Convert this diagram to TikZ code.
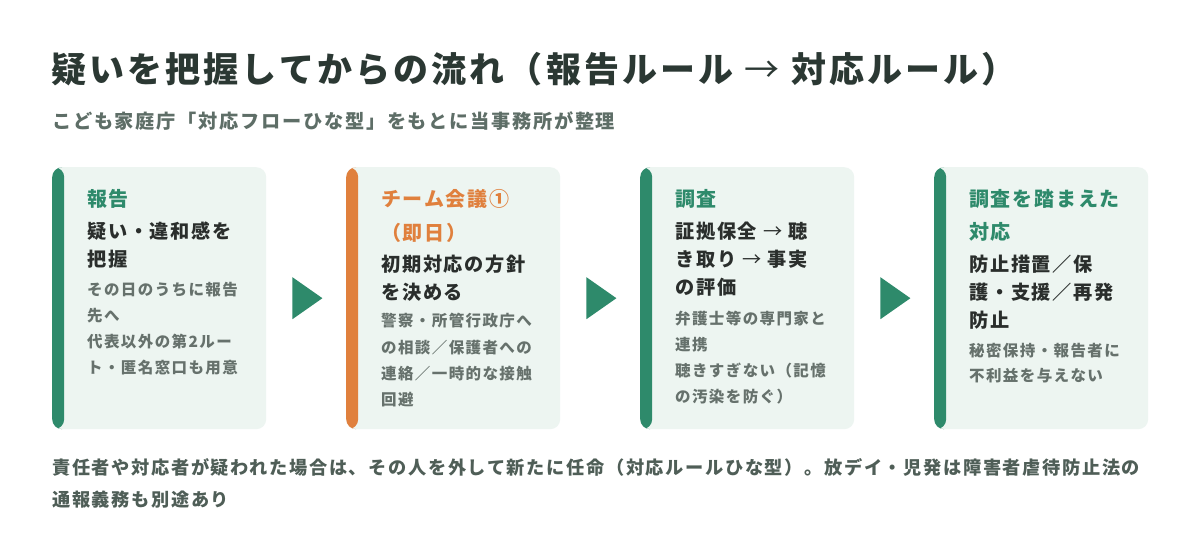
\documentclass[tikz,border=0pt]{standalone}
\usepackage{fontspec}
\setmainfont{Noto Sans CJK JP}[LetterSpace=9]
\newfontfamily\titlefont{Noto Sans CJK JP}[LetterSpace=9]
\usetikzlibrary{calc}
\definecolor{titlec}{HTML}{2B3833}
\definecolor{subc}{HTML}{5E6E67}
\definecolor{notec}{HTML}{4F5E57}
\definecolor{cardbg}{HTML}{EDF5F1}
\definecolor{greenc}{HTML}{2E8A6B}
\definecolor{orangec}{HTML}{E0803D}
\definecolor{maintxt}{HTML}{2A2E2C}
\definecolor{subtxt}{HTML}{66716C}
\newcommand{\thinarrow}{{\mdseries →}}
\begin{document}
\begin{tikzpicture}[x=1pt,y=-1pt,
  card/.style={draw=none, fill=cardbg, rounded corners=10pt, minimum width=214pt,
    minimum height=262pt, inner sep=0pt, anchor=north west,
    path picture={\fill[#1] (path picture bounding box.north west) rectangle ([xshift=12pt]path picture bounding box.south west);}},
  ctitle/.style={anchor=base west, inner sep=0pt, font=\bfseries\fontsize{20}{24}\selectfont, text=#1},
  cmain/.style={anchor=base west, inner sep=0pt, font=\bfseries\fontsize{19.2}{23}\selectfont, text=maintxt},
  csub/.style={anchor=base west, inner sep=0pt, font=\bfseries\fontsize{15.5}{19}\selectfont, text=subtxt},
  tri/.style={fill=greenc},
  note/.style={anchor=base west, inner sep=0pt, font=\bfseries\fontsize{18.2}{22}\selectfont, text=notec}]
\fill[white] (0,0) rectangle (1200,547);
\useasboundingbox (0,0) rectangle (1200,547);

\node[anchor=base west, inner sep=0pt, font=\titlefont\bfseries\fontsize{35}{42}\selectfont, text=titlec] (title) at (51,82) {疑いを把握してからの流れ（報告ルール \thinarrow{} 対応ルール）};
\node[anchor=base west, inner sep=0pt, font=\bfseries\fontsize{19.2}{23}\selectfont, text=subc] (subtitle) at (52,128.8) {こども家庭庁「対応フローひな型」をもとに当事務所が整理};

% cards
\node[card=greenc] (c1) at (52,167) {};
\node[card=orangec] (c2) at (346,167) {};
\node[card=greenc] (c3) at (640,167) {};
\node[card=greenc] (c4) at (934,167) {};

% arrows between cards
\foreach \a/\b in {c1/a1,c2/a2,c3/a3}{
  \coordinate (\b) at ($(\a.east)+(26,0)$);
  \fill[tri] ($(\b)+(0,-21)$) -- ($(\b)+(30,0)$) -- ($(\b)+(0,21)$) -- cycle;
}

% card 1
\node[ctitle=greenc] (c1t1) at (87,206.6) {報告};
\foreach \t [count=\i] in {疑い・違和感を,把握}
  \node[cmain] (c1m\i) at (87,238.2+28*\i-28) {\t};
\foreach \t [count=\i] in {その日のうちに報告,先へ,代表以外の第2ルー,ト・匿名窓口も用意}
  \node[csub] (c1s\i) at (87,295.4+26*\i-26) {\t};

% card 2
\foreach \t [count=\i] in {チーム会議①,（即日）}
  \node[ctitle=orangec] (c2t\i) at (381,206.6+34*\i-34) {\t};
\foreach \t [count=\i] in {初期対応の方針,を決める}
  \node[cmain] (c2m\i) at (381,271.2+28*\i-28) {\t};
\foreach \t [count=\i] in {警察・所管行政庁へ,の相談／保護者への,連絡／一時的な接触,回避}
  \node[csub] (c2s\i) at (381,326.9+26.3*\i-26.3) {\t};

% card 3
\node[ctitle=greenc] (c3t1) at (675,206.6) {調査};
\foreach \t [count=\i] in {証拠保全 \thinarrow{} 聴,き取り \thinarrow{} 事実,の評価}
  \node[cmain] (c3m\i) at (675,238.2+28*\i-28) {\t};
\foreach \t [count=\i] in {弁護士等の専門家と,連携,聴きすぎない（記憶,の汚染を防ぐ）}
  \node[csub] (c3s\i) at (675,324.9+25.7*\i-25.7) {\t};

% card 4
\foreach \t [count=\i] in {調査を踏まえた,対応}
  \node[ctitle=greenc] (c4t\i) at (969,206.6+33*\i-33) {\t};
\foreach \t [count=\i] in {防止措置／保,護・支援／再発,防止}
  \node[cmain] (c4m\i) at (969,271.2+28*\i-28) {\t};
\foreach \t [count=\i] in {秘密保持・報告者に,不利益を与えない}
  \node[csub] (c4s\i) at (969,356.9+25*\i-25) {\t};

% footnote
\node[note] (note1) at (52,474.8) {責任者や対応者が疑われた場合は、その人を外して新たに任命（対応ルールひな型）。放デイ・児発は障害者虐待防止法の};
\node[note] (note2) at (52,506.3) {通報義務も別途あり};
\end{tikzpicture}
\end{document}
